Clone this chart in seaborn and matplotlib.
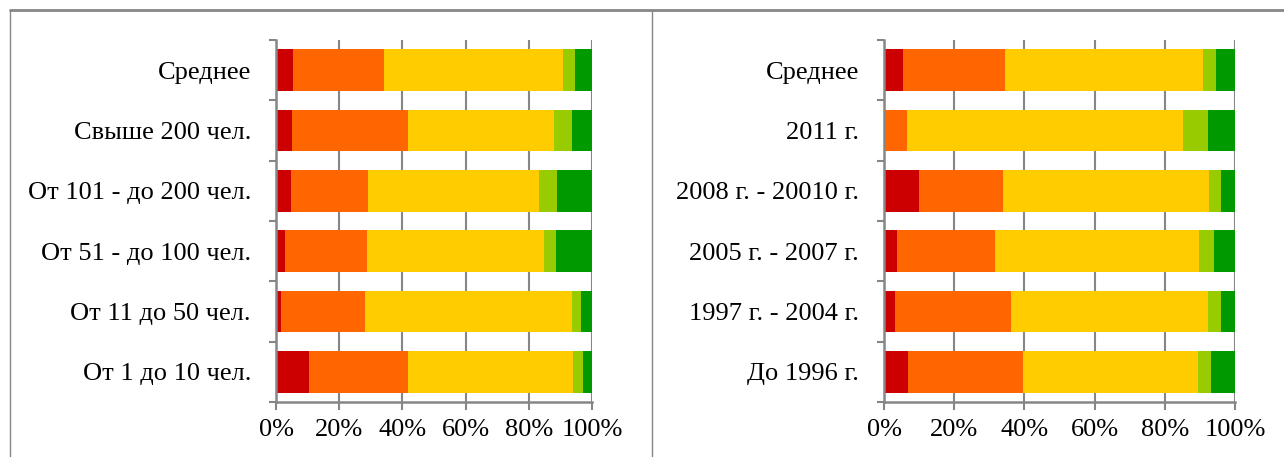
import pandas as pd
import matplotlib.pyplot as plt
import seaborn as sns
from matplotlib.lines import Line2D
from matplotlib.ticker import FixedLocator

sns.set_theme(style="white")
plt.rcParams['font.family'] = ['Liberation Serif', 'DejaVu Serif']

# Data (share of answers, %)
left_labels = ['Среднее', 'Свыше 200 чел.', 'От 101 - до 200 чел.',
               'От 51 - до 100 чел.', 'От 11 до 50 чел.', 'От 1 до 10 чел.']
left_red = [5.3, 5.1, 4.6, 3.0, 1.6, 10.6]
left_orange = [29.0, 36.6, 24.5, 25.9, 26.6, 31.2]
left_yellow = [56.5, 46.3, 54.2, 55.9, 65.4, 52.2]
left_lightgreen = [3.8, 5.8, 5.5, 3.7, 3.0, 3.3]
left_green = [5.4, 6.2, 11.2, 11.5, 3.4, 2.7]

right_labels = ['Среднее', '2011 г.', '2008 г. - 20010 г.',
                '2005 г. - 2007 г.', '1997 г. - 2004 г.', 'До 1996 г.']
right_red = [5.4, 0.0, 9.9, 3.7, 3.2, 6.9]
right_orange = [29.1, 6.6, 24.0, 27.8, 32.9, 32.6]
right_yellow = [56.3, 78.7, 58.8, 58.3, 56.2, 50.0]
right_lightgreen = [3.7, 7.1, 3.4, 4.1, 3.6, 3.7]
right_green = [5.5, 7.6, 3.9, 6.1, 4.1, 6.8]

colors = ['#CC0000', '#FF6600', '#FFCC00', '#99CC00', '#009900']
grey = '#868686'
fs = 19


def stacked(ax, labels, series):
    df = pd.DataFrame(dict(zip(['s1', 's2', 's3', 's4', 's5'], series)), index=labels)
    df = df.div(df.sum(axis=1), axis=0) * 100
    cum = df.cumsum(axis=1)
    # draw the cumulative totals from the largest down so each segment shows
    for col, c in reversed(list(zip(cum.columns, colors))):
        sns.barplot(x=cum[col].values, y=labels, orient='h', color=c,
                    width=0.69, saturation=1, linewidth=0, ax=ax, zorder=2)
    ax.set_xlim(0, 100)
    ax.set_ylim(5.5, -0.5)
    ax.set_xticks([0, 20, 40, 60, 80, 100])
    ax.set_xticklabels(['0%', '20%', '40%', '60%', '80%', '100%'])
    ax.grid(axis='x', color=grey, linewidth=1.5, zorder=0)
    ax.grid(axis='y', visible=False)
    ax.set_axisbelow(True)
    for s in ['top', 'right']:
        ax.spines[s].set_visible(False)
    for s in ['left', 'bottom']:
        ax.spines[s].set_color(grey)
        ax.spines[s].set_linewidth(1.8)
    ax.yaxis.set_minor_locator(FixedLocator([i - 0.5 for i in range(7)]))
    ax.tick_params(axis='y', which='major', length=0, pad=18, labelsize=fs, colors='black')
    ax.tick_params(axis='y', which='minor', left=True, length=5, width=1.5, color=grey)
    ax.tick_params(axis='x', bottom=True, length=6, width=1.5, color=grey, pad=6,
                   labelsize=fs, labelcolor='black')
    ax.set_xlabel('')
    ax.set_ylabel('')


fig = plt.figure(figsize=(12.84, 4.57), dpi=100)
ax1 = fig.add_axes([276 / 1284, 1 - 402 / 457, 316 / 1284, 362 / 457])
ax2 = fig.add_axes([884 / 1284, 1 - 402 / 457, 351 / 1284, 362 / 457])

stacked(ax1, left_labels, [left_red, left_orange, left_yellow, left_lightgreen, left_green])
stacked(ax2, right_labels, [right_red, right_orange, right_yellow, right_lightgreen, right_green])

# frame lines of the two chart boxes
fig.add_artist(Line2D([10 / 1284, 1], [1 - 10 / 457] * 2, color=grey, linewidth=2))
fig.add_artist(Line2D([10 / 1284] * 2, [0, 1 - 10 / 457], color=grey, linewidth=1))
fig.add_artist(Line2D([652 / 1284] * 2, [0, 1 - 10 / 457], color=grey, linewidth=1))

fig.savefig('out.png', dpi=100)
